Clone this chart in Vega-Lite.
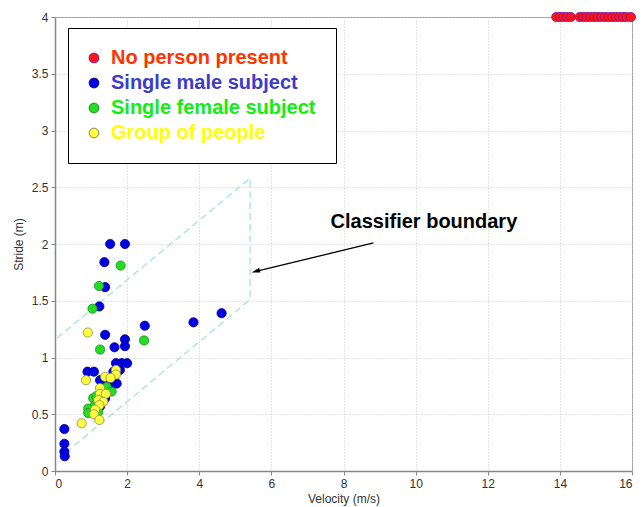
{
  "$schema": "https://vega.github.io/schema/vega-lite/v6.json",
  "width": 577,
  "height": 454,
  "autosize": "none",
  "padding": {"left": 55, "top": 17, "right": 12, "bottom": 36},
  "background": "white",
  "config": {
    "font": "Liberation Sans",
    "view": {"stroke": "#999", "strokeWidth": 1},
    "axis": {
      "labelFont": "Liberation Sans",
      "labelFontSize": 12,
      "labelColor": "#333",
      "titleFont": "Liberation Sans",
      "titleFontSize": 12,
      "titleFontWeight": "normal",
      "titleColor": "#333",
      "domainColor": "#888",
      "domainWidth": 1.5,
      "tickColor": "#888",
      "gridColor": "#c8c8c8",
      "gridDash": [1, 2],
      "tickSize": 4
    },
    "legend": {
      "orient": "none",
      "legendX": 13,
      "legendY": 11,
      "fillColor": "white",
      "strokeColor": "black",
      "padding": 20,
      "labelFont": "Liberation Sans",
      "labelFontSize": 20,
      "labelFontWeight": "bold",
      "labelOffset": 7,
      "labelLimit": 400,
      "rowPadding": 5,
      "symbolOffset": -4,
      "symbolSize": 95,
      "symbolStrokeColor": "black",
      "symbolStrokeWidth": 1,
      "symbolType": "circle"
    }
  },
  "datasets": {
    "points": [
      {"v": 13.9, "s": 4, "cls": "No person present"},
      {"v": 14.0, "s": 4, "cls": "No person present"},
      {"v": 14.1, "s": 4, "cls": "No person present"},
      {"v": 14.2, "s": 4, "cls": "No person present"},
      {"v": 14.3, "s": 4, "cls": "No person present"},
      {"v": 14.55, "s": 4, "cls": "No person present"},
      {"v": 14.65, "s": 4, "cls": "No person present"},
      {"v": 14.75, "s": 4, "cls": "No person present"},
      {"v": 14.85, "s": 4, "cls": "No person present"},
      {"v": 14.95, "s": 4, "cls": "No person present"},
      {"v": 15.05, "s": 4, "cls": "No person present"},
      {"v": 15.15, "s": 4, "cls": "No person present"},
      {"v": 15.25, "s": 4, "cls": "No person present"},
      {"v": 15.35, "s": 4, "cls": "No person present"},
      {"v": 15.45, "s": 4, "cls": "No person present"},
      {"v": 15.55, "s": 4, "cls": "No person present"},
      {"v": 15.65, "s": 4, "cls": "No person present"},
      {"v": 15.75, "s": 4, "cls": "No person present"},
      {"v": 15.85, "s": 4, "cls": "No person present"},
      {"v": 15.97, "s": 4, "cls": "No person present"},
      {"v": 0.26, "s": 0.37, "cls": "Single male subject"},
      {"v": 0.26, "s": 0.24, "cls": "Single male subject"},
      {"v": 0.26, "s": 0.17, "cls": "Single male subject"},
      {"v": 0.27, "s": 0.13, "cls": "Single male subject"},
      {"v": 1.53, "s": 2.0, "cls": "Single male subject"},
      {"v": 1.94, "s": 2.0, "cls": "Single male subject"},
      {"v": 1.37, "s": 1.84, "cls": "Single male subject"},
      {"v": 1.39, "s": 1.62, "cls": "Single male subject"},
      {"v": 1.23, "s": 1.45, "cls": "Single male subject"},
      {"v": 3.84, "s": 1.31, "cls": "Single male subject"},
      {"v": 4.62, "s": 1.39, "cls": "Single male subject"},
      {"v": 2.49, "s": 1.28, "cls": "Single male subject"},
      {"v": 1.39, "s": 1.2, "cls": "Single male subject"},
      {"v": 1.94, "s": 1.16, "cls": "Single male subject"},
      {"v": 1.94, "s": 1.1, "cls": "Single male subject"},
      {"v": 1.65, "s": 1.09, "cls": "Single male subject"},
      {"v": 1.69, "s": 0.95, "cls": "Single male subject"},
      {"v": 1.85, "s": 0.95, "cls": "Single male subject"},
      {"v": 2.0, "s": 0.95, "cls": "Single male subject"},
      {"v": 1.78, "s": 0.92, "cls": "Single male subject"},
      {"v": 0.9, "s": 0.875, "cls": "Single male subject"},
      {"v": 1.08, "s": 0.875, "cls": "Single male subject"},
      {"v": 1.62, "s": 0.875, "cls": "Single male subject"},
      {"v": 1.8, "s": 0.89, "cls": "Single male subject"},
      {"v": 1.25, "s": 0.8, "cls": "Single male subject"},
      {"v": 1.43, "s": 0.79, "cls": "Single male subject"},
      {"v": 1.62, "s": 0.8, "cls": "Single male subject"},
      {"v": 1.71, "s": 0.77, "cls": "Single male subject"},
      {"v": 1.55, "s": 0.76, "cls": "Single male subject"},
      {"v": 1.5, "s": 0.72, "cls": "Single male subject"},
      {"v": 1.35, "s": 0.7, "cls": "Single male subject"},
      {"v": 1.25, "s": 0.65, "cls": "Single male subject"},
      {"v": 1.39, "s": 0.64, "cls": "Single male subject"},
      {"v": 1.25, "s": 0.57, "cls": "Single male subject"},
      {"v": 1.82, "s": 1.81, "cls": "Single female subject"},
      {"v": 1.22, "s": 1.63, "cls": "Single female subject"},
      {"v": 1.04, "s": 1.43, "cls": "Single female subject"},
      {"v": 2.47, "s": 1.15, "cls": "Single female subject"},
      {"v": 1.25, "s": 1.07, "cls": "Single female subject"},
      {"v": 1.43, "s": 0.74, "cls": "Single female subject"},
      {"v": 1.57, "s": 0.7, "cls": "Single female subject"},
      {"v": 1.06, "s": 0.64, "cls": "Single female subject"},
      {"v": 1.15, "s": 0.66, "cls": "Single female subject"},
      {"v": 1.3, "s": 0.62, "cls": "Single female subject"},
      {"v": 1.11, "s": 0.58, "cls": "Single female subject"},
      {"v": 0.92, "s": 0.55, "cls": "Single female subject"},
      {"v": 0.92, "s": 0.51, "cls": "Single female subject"},
      {"v": 1.2, "s": 0.52, "cls": "Single female subject"},
      {"v": 0.91, "s": 1.22, "cls": "Group of people"},
      {"v": 0.86, "s": 0.8, "cls": "Group of people"},
      {"v": 1.69, "s": 0.89, "cls": "Group of people"},
      {"v": 1.69, "s": 0.85, "cls": "Group of people"},
      {"v": 1.39, "s": 0.83, "cls": "Group of people"},
      {"v": 1.54, "s": 0.82, "cls": "Group of people"},
      {"v": 1.25, "s": 0.73, "cls": "Group of people"},
      {"v": 1.25, "s": 0.68, "cls": "Group of people"},
      {"v": 1.41, "s": 0.68, "cls": "Group of people"},
      {"v": 1.2, "s": 0.625, "cls": "Group of people"},
      {"v": 1.34, "s": 0.61, "cls": "Group of people"},
      {"v": 1.23, "s": 0.58, "cls": "Group of people"},
      {"v": 1.11, "s": 0.54, "cls": "Group of people"},
      {"v": 1.08, "s": 0.5, "cls": "Group of people"},
      {"v": 1.23, "s": 0.45, "cls": "Group of people"},
      {"v": 0.74, "s": 0.42, "cls": "Group of people"}
    ],
    "boundary": [
      {"v": 0.05, "s": 1.17, "ord": 1},
      {"v": 5.41, "s": 2.58, "ord": 2},
      {"v": 5.41, "s": 1.51, "ord": 3},
      {"v": 0.25, "s": 0.15, "ord": 4}
    ],
    "arrow": [
      {"v": 8.83, "s": 2.01, "v2": 5.6, "s2": 1.76}
    ],
    "arrowhead": [
      {"v": 5.45, "s": 1.75}
    ],
    "label": [
      {"v": 10.23, "s": 2.19, "text": "Classifier boundary"}
    ]
  },
  "layer": [
    {
      "data": {"name": "boundary"},
      "mark": {"type": "line", "color": "#a6e2e2", "strokeWidth": 1.3, "strokeDash": [7, 4]},
      "encoding": {
        "x": {"field": "v", "type": "quantitative", "scale": {"domain": [0, 16], "nice": false}},
        "y": {"field": "s", "type": "quantitative", "scale": {"domain": [0, 4], "nice": false}},
        "order": {"field": "ord"}
      }
    },
    {
      "data": {"name": "points"},
      "mark": {"type": "point", "filled": true, "shape": "circle", "size": 85, "opacity": 1, "strokeWidth": 0.8, "clip": false},
      "encoding": {
        "x": {
          "field": "v", "type": "quantitative",
          "scale": {"domain": [0, 16], "nice": false},
          "axis": {"values": [0, 2, 4, 6, 8, 10, 12, 14, 16], "title": "Velocity (m/s)", "titlePadding": 4, "labelPadding": 3}
        },
        "y": {
          "field": "s", "type": "quantitative",
          "scale": {"domain": [0, 4], "nice": false},
          "axis": {"values": [0, 0.5, 1, 1.5, 2, 2.5, 3, 3.5, 4], "format": ".1~f", "title": "Stride (m)", "titlePadding": 6, "labelPadding": 3}
        },
        "fill": {
          "field": "cls", "type": "nominal",
          "scale": {
            "domain": ["No person present", "Single male subject", "Single female subject", "Group of people"],
            "range": ["#ff1515", "#0000e0", "#22dd22", "#ffff40"]
          },
          "legend": {
            "title": null,
            "labelColor": {"expr": "datum.value === 'No person present' ? '#ff3300' : datum.value === 'Single male subject' ? '#3c3cc8' : datum.value === 'Single female subject' ? '#11ee11' : '#ffff00'"}
          }
        },
        "stroke": {
          "field": "cls", "type": "nominal",
          "scale": {
            "domain": ["No person present", "Single male subject", "Single female subject", "Group of people"],
            "range": ["#7a10a0", "#0000a0", "#208a20", "#8a8a50"]
          },
          "legend": null
        }
      }
    },
    {
      "data": {"name": "arrow"},
      "mark": {"type": "rule", "color": "black", "strokeWidth": 1.3},
      "encoding": {
        "x": {"field": "v", "type": "quantitative"},
        "y": {"field": "s", "type": "quantitative"},
        "x2": {"field": "v2"},
        "y2": {"field": "s2"}
      }
    },
    {
      "data": {"name": "arrowhead"},
      "mark": {"type": "point", "filled": true, "color": "black", "shape": "M0,0L-0.5,1.8L0.5,1.8Z", "size": 90, "angle": 255, "opacity": 1},
      "encoding": {
        "x": {"field": "v", "type": "quantitative"},
        "y": {"field": "s", "type": "quantitative"}
      }
    },
    {
      "data": {"name": "label"},
      "mark": {"type": "text", "font": "Liberation Sans", "fontSize": 20, "fontWeight": "bold", "color": "black", "align": "center", "baseline": "middle"},
      "encoding": {
        "x": {"field": "v", "type": "quantitative"},
        "y": {"field": "s", "type": "quantitative"},
        "text": {"field": "text"}
      }
    }
  ]
}
